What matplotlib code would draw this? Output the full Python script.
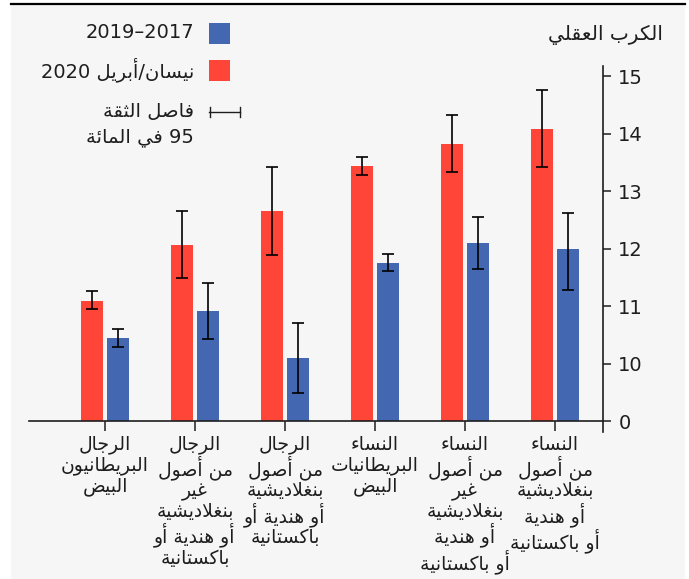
import re
import numpy as np
import matplotlib
matplotlib.use("Agg")
import matplotlib.pyplot as plt
from matplotlib.patches import Rectangle
from matplotlib.lines import Line2D

# ---------------------------------------------------------------- data
categories = [
    "الرجال\nالبريطانيون\nالبيض",
    "الرجال\nمن أصول\nغير\nبنغلاديشية\nأو هندية أو\nباكستانية",
    "الرجال\nمن أصول\nبنغلاديشية\nأو هندية أو\nباكستانية",
    "النساء\nالبريطانيات\nالبيض",
    "النساء\nمن أصول\nغير\nبنغلاديشية\nأو هندية\nأو باكستانية",
    "النساء\nمن أصول\nبنغلاديشية\nأو هندية\nأو باكستانية",
]
april_2020 = [11.09, 12.06, 12.65, 13.43, 13.82, 14.08]
april_2020_low = [10.95, 11.49, 11.89, 13.27, 13.33, 13.41]
april_2020_high = [11.26, 12.66, 13.41, 13.60, 14.33, 14.76]
baseline_1719 = [10.44, 10.91, 10.10, 11.75, 12.10, 11.99]
baseline_1719_low = [10.29, 10.42, 9.48, 11.61, 11.65, 11.28]
baseline_1719_high = [10.60, 11.40, 10.71, 11.90, 12.54, 12.62]
y_ticks = [9, 10, 11, 12, 13, 14, 15]
y_tick_labels = ["0", "10", "11", "12", "13", "14", "15"]

title = "الكرب العقلي"
label_1719 = "2017–2019"
label_2020 = "نيسان/أبريل 2020"
label_ci = "فاصل الثقة\n95 في المائة"

RED = "#ff4438"
BLUE = "#4467b1"
INK = "#1e1e1e"
PANEL = "#f6f6f6"
FS = 14

# ------------------------------------------------ Arabic shaping helpers
_DUAL = {'ئ': 0xFE89, 'ب': 0xFE8F, 'ت': 0xFE95, 'ث': 0xFE99, 'ج': 0xFE9D,
         'ح': 0xFEA1, 'خ': 0xFEA5, 'س': 0xFEB1, 'ش': 0xFEB5, 'ص': 0xFEB9,
         'ض': 0xFEBD, 'ط': 0xFEC1, 'ظ': 0xFEC5, 'ع': 0xFEC9, 'غ': 0xFECD,
         'ف': 0xFED1, 'ق': 0xFED5, 'ك': 0xFED9, 'ل': 0xFEDD, 'م': 0xFEE1,
         'ن': 0xFEE5, 'ه': 0xFEE9, 'ي': 0xFEF1}
_RIGHT = {'آ': 0xFE81, 'أ': 0xFE83, 'ؤ': 0xFE85, 'إ': 0xFE87, 'ا': 0xFE8D,
          'ة': 0xFE93, 'د': 0xFEA9, 'ذ': 0xFEAB, 'ر': 0xFEAD, 'ز': 0xFEAF,
          'و': 0xFEED, 'ى': 0xFEEF}
_NONE = {'ء': 0xFE80}
_LAMALEF = {'آ': 0xFEF5, 'أ': 0xFEF7, 'إ': 0xFEF9, 'ا': 0xFEFB}


def _shape(s):
    out, i, n, prev = [], 0, len(s), False
    while i < n:
        c = s[i]
        if c == 'ل' and i + 1 < n and s[i + 1] in _LAMALEF:
            base = _LAMALEF[s[i + 1]]
            out.append(chr(base + 1 if prev else base))
            prev = False
            i += 2
            continue
        if c in _DUAL:
            nxt = s[i + 1] if i + 1 < n else ''
            nj = nxt in _DUAL or nxt in _RIGHT
            base = _DUAL[c]
            if prev and nj:
                f = base + 3
            elif prev:
                f = base + 1
            elif nj:
                f = base + 2
            else:
                f = base
            out.append(chr(f))
            prev = nj
        elif c in _RIGHT:
            out.append(chr(_RIGHT[c] + 1 if prev else _RIGHT[c]))
            prev = False
        elif c in _NONE:
            out.append(chr(_NONE[c]))
            prev = False
        else:
            out.append(c)
            prev = False
        i += 1
    return ''.join(out)


def rtl(text):
    lines = []
    for line in text.split("\n"):
        r = _shape(line)[::-1]
        lines.append(re.sub(r'[0-9]+', lambda m: m.group(0)[::-1], r))
    return "\n".join(lines)


# ---------------------------------------------------------------- figure
W, H = 689, 579
plt.rcParams['font.family'] = ['DejaVu Sans']
fig = plt.figure(figsize=(W / 100, H / 100), dpi=100, facecolor="white")


def fx(px):
    return px / W


def fy(py):
    return 1 - py / H


# panel background and top rule
fig.patches.append(Rectangle((fx(11), 0), fx(685) - fx(11), fy(3), transform=fig.transFigure,
                             facecolor=PANEL, edgecolor="none", zorder=-5))
fig.lines.append(Line2D([fx(11), fx(685)], [fy(4), fy(4)], transform=fig.transFigure,
                        color="black", lw=1.6, zorder=1))

ax_left, ax_right, ax_top, ax_bot = 29, 603, 66, 432
ax = fig.add_axes([fx(ax_left), fy(ax_bot), fx(ax_right) - fx(ax_left), fy(ax_top) - fy(ax_bot)],
                  zorder=2)
ax.set_facecolor("none")

x = np.arange(len(categories))
px_per_cat = 90.0
floor = 9
ax.set_xlim(-(105 - ax_left) / px_per_cat, (ax_right - 105) / px_per_cat)
px_per_unit = 57.5
ax.set_ylim(floor - (ax_bot - 421) / px_per_unit, floor + (421 - ax_top) / px_per_unit)

off = 13 / px_per_cat
bw = 22 / px_per_cat
red_vals = np.array(april_2020)
blue_vals = np.array(baseline_1719)
ax.bar(x - off, red_vals - floor, bottom=floor, width=bw, color=RED, zorder=2)
ax.bar(x + off, blue_vals - floor, bottom=floor, width=bw, color=BLUE, zorder=2)

err_kw = dict(fmt="none", ecolor="black", elinewidth=1.2, capsize=4, capthick=1.2, zorder=3)
ax.errorbar(x - off, red_vals,
            yerr=[red_vals - np.array(april_2020_low), np.array(april_2020_high) - red_vals], **err_kw)
ax.errorbar(x + off, blue_vals,
            yerr=[blue_vals - np.array(baseline_1719_low), np.array(baseline_1719_high) - blue_vals], **err_kw)

# axes styling
for side in ("left", "top"):
    ax.spines[side].set_visible(False)
ax.spines["right"].set_color(INK)
ax.spines["right"].set_linewidth(1.2)
ax.spines["bottom"].set_position(("data", floor))
ax.spines["bottom"].set_color(INK)
ax.spines["bottom"].set_linewidth(1.2)

ax.yaxis.tick_right()
ax.set_yticks(y_ticks)
ax.set_yticklabels(y_tick_labels)
ax.tick_params(axis="y", direction="out", length=6, width=1.1, color=INK,
               labelsize=FS, labelcolor=INK, pad=5)

ax.set_xticks(x)
ax.set_xticklabels([rtl(c) for c in categories], linespacing=1.08)
ax.tick_params(axis="x", direction="out", length=7, width=1.1, color=INK,
               labelsize=FS - 0.5, labelcolor=INK, pad=3)

# title
fig.text(fx(663), fy(35), rtl(title), ha="right", va="center", fontsize=FS + 0.5, color=INK)

# legend
fig.patches.append(Rectangle((fx(209), fy(44)), fx(21), fy(0) - fy(21), transform=fig.transFigure,
                             facecolor=BLUE, edgecolor="none"))
fig.patches.append(Rectangle((fx(209), fy(81)), fx(21), fy(0) - fy(21), transform=fig.transFigure,
                             facecolor=RED, edgecolor="none"))
fig.lines.append(Line2D([fx(209), fx(240)], [fy(112), fy(112)], transform=fig.transFigure,
                        color=INK, lw=1.0))
for cx in (209.5, 239.5):
    fig.lines.append(Line2D([fx(cx), fx(cx)], [fy(107), fy(117)], transform=fig.transFigure,
                            color=INK, lw=1.0))
fig.text(fx(194), fy(33), rtl(label_1719), ha="right", va="center", fontsize=FS, color=INK)
fig.text(fx(194), fy(70), rtl(label_2020), ha="right", va="center", fontsize=FS, color=INK)
fig.text(fx(194), fy(124.5), rtl(label_ci), ha="right", va="center", fontsize=FS, color=INK,
         linespacing=1.45, multialignment="right")

fig.savefig("out.png", dpi=100, facecolor="white")
